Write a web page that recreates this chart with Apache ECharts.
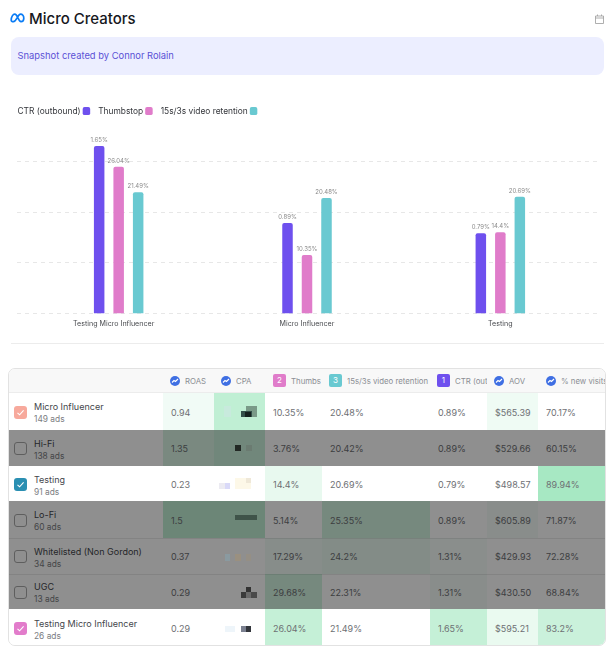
<!DOCTYPE html>
<html>
<head>
<meta charset="utf-8">
<title>Micro Creators</title>
<script src="https://cdn.jsdelivr.net/npm/echarts@6/dist/echarts.min.js"></script>
<style>
  html, body { margin: 0; padding: 0; background: #fff; }
  body { width: 615px; height: 655px; position: relative; overflow: hidden; font-family: Inter, "Noto Sans", sans-serif; }
  .abs { position: absolute; }
  #title { left: 29px; top: 9px; font-size: 15px; line-height: 19px; font-weight: 500; color: #16181d; }
  #banner { left: 11px; top: 37px; width: 593px; height: 38px; background: #eceeff; border-radius: 8px; }
  #banner span { position: absolute; left: 6.5px; top: 13px; font-size: 9.4px; line-height: 12px; color: #5b52d6; }
  #chart { left: 0; top: 95px; width: 615px; height: 250px; }
  #rule { left: 11px; top: 343px; width: 593px; height: 1px; background: #ececec; }
  #table { left: 8px; top: 368px; width: 598px; height: 278px; box-sizing: border-box; border: 1px solid #e2e2e2; border-radius: 7px; overflow: hidden; background: #fff; }
  .head { position: absolute; top: 0; height: 24px; font-size: 7.8px; line-height: 24px; color: #8b8e94; white-space: nowrap; overflow: hidden; }
  .badge { position: absolute; top: 5px; width: 13px; height: 13px; border-radius: 2px; color: #fff; font-size: 8px; line-height: 13px; text-align: center; }
  .dot { position: absolute; top: 7px; width: 10px; height: 10px; border-radius: 50%; background: #3f6fe3; }
  .cell { position: absolute; top: 0; bottom: 0; font-size: 9px; color: #6e7074; }
  .cell span { position: absolute; left: 8px; right: 6px; top: 50%; margin-top: -4.5px; line-height: 12px; overflow: hidden; white-space: nowrap; }
  .name { position: absolute; left: 25px; font-size: 9px; line-height: 12px; color: #44464b; white-space: nowrap; }
  .ads { position: absolute; left: 25px; font-size: 8.4px; line-height: 10px; color: #7b7d82; white-space: nowrap; }
  .box { position: absolute; left: 5px; width: 13px; height: 13px; border-radius: 3px; box-sizing: border-box; }
  .shade { position: absolute; inset: 0; background: rgba(0,0,0,.44); }
  .patch { position: absolute; z-index: 2; }
</style>
</head>
<body>

<svg class="abs" style="left:10px;top:13px" width="15" height="10" viewBox="0 0 15 10">
  <path d="M1.2 7.2C1.2 3.6 3 1.2 4.8 1.2C7.6 1.2 8.2 8.6 11 8.6C13 8.6 13.8 6.8 13.8 5.2C13.8 2.8 12.4 1.2 10.6 1.2C7.6 1.2 6.6 8.6 3.4 8.6C2 8.6 1.2 8 1.2 7.2Z" fill="none" stroke="#0a7cf5" stroke-width="1.7"/>
</svg>
<div id="title" class="abs">Micro Creators</div>
<svg class="abs" style="left:595px;top:14px" width="9" height="10" viewBox="0 0 9 10">
  <path d="M.5 2h8v7.5h-8zM.5 4h8M2.5 .5v1.5M6.5 .5v1.5" fill="none" stroke="#9a9a9a" stroke-width=".8"/>
</svg>
<div id="banner" class="abs"><span>Snapshot created by Connor Rolain</span></div>
<div id="chart" class="abs"></div>
<div id="rule" class="abs"></div>
<div id="table" class="abs"></div>

<script>
// chart values
const categories = ["Testing Micro Influencer", "Micro Influencer", "Testing"];
const ctrValues = [1.65, 0.89, 0.79];
const thumbstopValues = [26.04, 10.35, 14.4];
const retentionValues = [21.49, 20.48, 20.69];
const seriesNames = ["CTR (outbound)", "Thumbstop", "15s/3s video retention"];
const seriesColors = ["#6e50ee", "#e07cca", "#69c9d1"];

// table values
const rowNames = ["Micro Influencer", "Hi-Fi", "Testing", "Lo-Fi", "Whitelisted (Non Gordon)", "UGC", "Testing Micro Influencer"];
const rowAds = ["149 ads", "138 ads", "91 ads", "60 ads", "34 ads", "13 ads", "26 ads"];
const rowChecked = ["#f7a99c", null, "#2a8fb2", null, null, null, "#e27ccb"];
const roasColumn = ["0.94", "1.35", "0.23", "1.5", "0.37", "0.29", "0.29"];
const thumbColumn = ["10.35%", "3.76%", "14.4%", "5.14%", "17.29%", "29.68%", "26.04%"];
const retentionColumn = ["20.48%", "20.42%", "20.69%", "25.35%", "24.2%", "22.31%", "21.49%"];
const ctrColumn = ["0.89%", "0.89%", "0.79%", "0.89%", "1.31%", "1.31%", "1.65%"];
const aovColumn = ["$565.39", "$529.66", "$498.57", "$605.89", "$429.93", "$430.50", "$595.21"];
const visitsColumn = ["70.17%", "60.15%", "89.94%", "71.87%", "72.28%", "68.84%", "83.2%"];
// green strength of each cell, order ROAS, CPA, thumbstop, retention, CTR, AOV, new visits
const heat = [
  [.08, .36, 0, 0, 0, .09, 0],
  [.22, .30, 0, 0, 0, 0, 0],
  [0, 0, .13, 0, 0, 0, .5],
  [.36, .36, 0, .25, 0, .06, 0],
  [0, 0, .08, .12, .05, 0, 0],
  [0, 0, .25, 0, .06, 0, 0],
  [0, 0, .33, 0, .33, .12, .3]
];
// redacted CPA figures, pixelated in the source: x, y, w, h, colour
const cpaBlur = [
  [[10, 13, 7, 11, "#c8eadd"], [32, 13, 11, 11, "#7a9a88"], [27, 18, 11, 6, "#33504a"], [31, 19, 6, 5, "#15211f"]],
  [[21, 15, 6, 6, "#222824"], [32, 15, 6, 6, "#6b7b71"]],
  [[5, 17, 6, 6, "#ecebf2"], [11, 17, 5, 6, "#d9d9f8"], [21, 12, 16, 11, "#fdf8e8"], [32, 12, 5, 5, "#efe8d8"]],
  [[21, 14, 22, 5, "#3f5349"]],
  [[11, 16, 5, 7, "#8a9aa0"], [21, 16, 6, 7, "#9a9080"], [32, 16, 5, 7, "#958f85"]],
  [[32, 13, 5, 5, "#333333"], [27, 18, 5, 6, "#3a3a3a"], [32, 18, 5, 6, "#6a6a6a"], [37, 18, 6, 6, "#4a4a4a"]],
  [[11, 17, 10, 6, "#eef5fa"], [27, 17, 5, 6, "#7b8090"], [32, 17, 5, 6, "#33363c"]]
];

// the first group sits a few px right of its label in the source
const groupNudge = [5, 0, 0];
const barOffset = [-19.5, 0, 19.5];
const barWidth = 10.5;

function barSeries(index, values, yAxisIndex) {
  return {
    type: "custom",
    name: seriesNames[index],
    yAxisIndex: yAxisIndex,
    itemStyle: { color: seriesColors[index] },
    encode: { x: 0, y: 1 },
    data: values.map((v, i) => [i, v]),
    renderItem(params, api) {
      const cat = api.value(0);
      const val = api.value(1);
      const top = api.coord([cat, val]);
      const base = api.coord([cat, 0]);
      const cx = top[0] + groupNudge[cat] + barOffset[index];
      return {
        type: "group",
        children: [
          {
            type: "rect",
            shape: { x: cx - barWidth / 2, y: top[1], width: barWidth, height: base[1] - top[1], r: [2, 2, 0, 0] },
            style: { fill: seriesColors[index] }
          },
          {
            type: "text",
            style: {
              text: val + "%", x: cx, y: top[1] - 3, align: "center", verticalAlign: "bottom",
              fontSize: 6, fontFamily: "Inter", fill: "#8a8a8a"
            }
          }
        ]
      };
    }
  };
}

const chart = echarts.init(document.getElementById("chart"));
chart.setOption({
  animation: false,
  legend: {
    left: 12.5, top: 7, itemWidth: 7.5, itemHeight: 8, itemGap: 8, align: "right", icon: "roundRect", selectedMode: false,
    textStyle: { fontFamily: "Inter", fontSize: 8.4, color: "#33353a", padding: [0, -3, 0, 0] }
  },
  grid: { left: 17, right: 18, top: 66.3, height: 152 },
  xAxis: {
    type: "category", data: categories,
    axisLine: { show: false }, axisTick: { show: false },
    axisLabel: { margin: 7, fontFamily: "Inter", fontSize: 7.1, color: "#4a4c50" }
  },
  yAxis: [
    { type: "value", min: 0, max: 1.5, interval: 0.5, show: false, splitLine: { show: false } },
    {
      type: "value", min: 0, max: 27, interval: 9,
      axisLine: { show: false }, axisTick: { show: false }, axisLabel: { show: false },
      splitLine: { show: true, lineStyle: { type: [4, 4], color: "#e7e7e7", width: 1 } }
    }
  ],
  series: [barSeries(0, ctrValues, 0), barSeries(1, thumbstopValues, 1), barSeries(2, retentionValues, 1)]
});

// table
const table = document.getElementById("table");
const colX = [154, 205, 256, 313, 421, 478, 529, 598];
const rowY = [24, 60.5, 97, 132, 168.5, 204.5, 240, 277];
const cellColumns = [roasColumn, null, thumbColumn, retentionColumn, ctrColumn, aovColumn, visitsColumn];
const spark = '<svg width="10" height="10" viewBox="0 0 10 10" style="display:block"><path d="M2 6.5L4 4.5L5.5 5.5L8 3" fill="none" stroke="#fff" stroke-width="1.1"/></svg>';
const headers = [
  { label: "ROAS", x: 161, mark: "dot" }, { label: "CPA", x: 212, mark: "dot" },
  { label: "Thumbstop", x: 264, w: 48, mark: "2", color: seriesColors[1] },
  { label: "15s/3s video retention", x: 320, w: 101, mark: "3", color: seriesColors[2] },
  { label: "CTR (outbound)", x: 428, w: 50, mark: "1", color: seriesColors[0] },
  { label: "AOV", x: 485, mark: "dot" }, { label: "% new visits", x: 537, w: 61, mark: "dot" }
];

let html = '<div class="abs" style="left:0;top:0;right:0;height:24px;background:#f8f8f8;border-bottom:1px solid #ececec;box-sizing:border-box"></div>';
headers.forEach(h => {
  const markW = h.mark === "dot" ? 10 : 13;
  html += h.mark === "dot"
    ? `<div class="dot" style="left:${h.x}px">${spark}</div>`
    : `<div class="badge" style="left:${h.x}px;background:${h.color}">${h.mark}</div>`;
  const left = h.x + markW + 5;
  const width = h.w ? h.x + h.w - left : 40;
  html += `<div class="head" style="left:${left}px;width:${width}px">${h.label}</div>`;
});

rowNames.forEach((name, r) => {
  const top = rowY[r], height = rowY[r + 1] - rowY[r];
  html += `<div class="abs" style="left:0;right:0;top:${top}px;height:${height}px;background:#fff">`;
  cellColumns.forEach((column, c) => {
    const bg = heat[r][c] ? `background:rgba(80,210,135,${heat[r][c]});` : "";
    const text = column ? `<span>${column[r]}</span>` : "";
    html += `<div class="cell" style="left:${colX[c]}px;width:${colX[c + 1] - colX[c]}px;${bg}">${text}</div>`;
  });
  html += `<div class="name" style="top:${height / 2 - 10}px">${name}</div>`;
  html += `<div class="ads" style="top:${height / 2 + 3}px">${rowAds[r]}</div>`;
  const boxTop = height / 2 - 5.5;
  html += rowChecked[r]
    ? `<div class="box" style="top:${boxTop}px;background:${rowChecked[r]}"><svg width="13" height="13" viewBox="0 0 13 13" style="display:block"><path d="M3.5 6.8L5.6 8.8L9.6 4.4" fill="none" stroke="#fff" stroke-width="1.1"/></svg></div>`
    : `<div class="box" style="top:${boxTop}px;border:1.2px solid #a8a8a8;background:#fff"></div>`;
  if (!rowChecked[r]) {
    html += `<div class="shade" style="${r > 1 && !rowChecked[r - 1] ? "border-top:1px solid rgba(0,0,0,.08);" : ""}"></div>`;
  }
  cpaBlur[r].forEach(p => {
    html += `<div class="patch" style="left:${colX[1] + p[0]}px;top:${p[1]}px;width:${p[2]}px;height:${p[3]}px;background:${p[4]}"></div>`;
  });
  html += "</div>";
});
table.innerHTML = html;
</script>
</body>
</html>
